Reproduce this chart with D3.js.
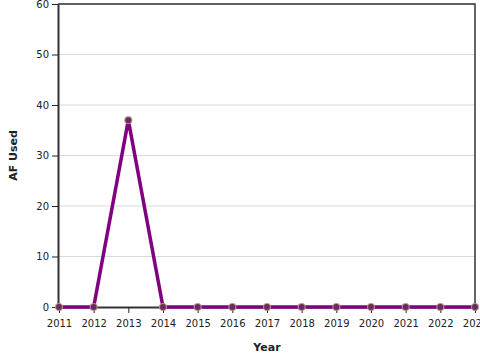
<!DOCTYPE html>
<html>
<head>
<meta charset="utf-8">
<script src="https://cdn.jsdelivr.net/npm/d3@7"></script>
<style>
body { margin: 0; background: #fff; }
svg { display: block; font-family: "DejaVu Sans", sans-serif; }
</style>
</head>
<body>
<svg id="chart" width="480" height="360"></svg>
<script>
const years = [2011, 2012, 2013, 2014, 2015, 2016, 2017, 2018, 2019, 2020, 2021, 2022, 2023];
const afUsed = [0, 0, 37, 0, 0, 0, 0, 0, 0, 0, 0, 0, 0];
const yTicks = [0, 10, 20, 30, 40, 50, 60];

const svg = d3.select("#chart");
const margin = {left: 58, right: 5, top: 4, bottom: 53};
const W = 480, H = 360;
const x = d3.scaleLinear().domain([2011, 2023]).range([margin.left + 1, W - margin.right]);
const y = d3.scaleLinear().domain([0, 60]).range([H - margin.bottom, margin.top]);

// gridlines
svg.append("g").selectAll("line").data(yTicks.filter(d => d > 0)).join("line")
  .attr("x1", margin.left).attr("x2", W - margin.right)
  .attr("y1", d => y(d)).attr("y2", d => y(d))
  .attr("stroke", "#d9d9d9").attr("stroke-width", 1);

// frame top/right
svg.append("path")
  .attr("d", `M${margin.left},${y(60)}H${W - margin.right}V${y(0)}`)
  .attr("fill", "none").attr("stroke", "#333").attr("stroke-width", 1.5);

const xAxis = svg.append("g").attr("transform", `translate(0,${y(0)})`)
  .call(d3.axisBottom(x).tickValues(years).tickFormat(d3.format("d")).tickSize(6).tickSizeOuter(0));
const yAxis = svg.append("g").attr("transform", `translate(${margin.left},0)`)
  .call(d3.axisLeft(y).tickValues(yTicks).tickSize(6).tickSizeOuter(0));
[xAxis, yAxis].forEach(g => {
  g.select(".domain").attr("stroke", "#333").attr("stroke-width", 2);
  g.selectAll(".tick line").attr("stroke", "#222");
  g.selectAll("text").attr("fill", "#222").style("font-size", "10px").style("font-family", "DejaVu Sans, sans-serif");
});
xAxis.selectAll("text").attr("dy", "1.1em");

const data = years.map((yr, i) => ({yr, v: afUsed[i]}));
svg.append("path").datum(data)
  .attr("d", d3.line().x(d => x(d.yr)).y(d => y(d.v)))
  .attr("fill", "none").attr("stroke", "#800080").attr("stroke-width", 3.5)
  .attr("stroke-linejoin", "miter");

svg.append("g").selectAll("circle").data(data).join("circle")
  .attr("cx", d => x(d.yr)).attr("cy", d => y(d.v)).attr("r", 3.5)
  .attr("fill", "#6a2a62").attr("stroke", "#b89a86").attr("stroke-width", 1.2).attr("stroke-opacity", 0.85);

svg.append("text").attr("x", 267).attr("y", 351)
  .attr("text-anchor", "middle").attr("font-weight", "bold").attr("font-size", 11).attr("fill", "#222")
  .text("Year");
svg.append("text").attr("transform", `translate(17,${(y(0) + y(60)) / 2}) rotate(-90)`)
  .attr("text-anchor", "middle").attr("font-weight", "bold").attr("font-size", 11).attr("fill", "#222")
  .text("AF Used");
</script>
</body>
</html>
